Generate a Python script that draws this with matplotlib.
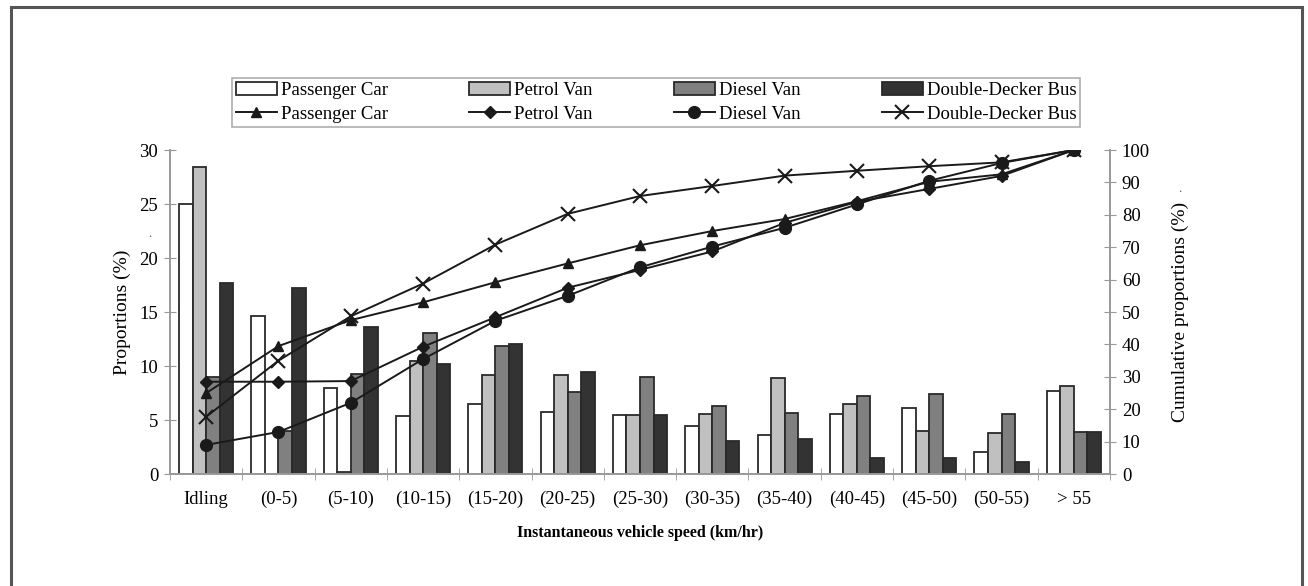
import matplotlib.pyplot as plt
import matplotlib.patches as mpatches
import numpy as np

plt.rcParams["font.family"] = ["Liberation Serif", "DejaVu Serif"]

speed_bins = ["Idling", "(0-5)", "(5-10)", "(10-15)", "(15-20)", "(20-25)", "(25-30)",
              "(30-35)", "(35-40)", "(40-45)", "(45-50)", "(50-55)", "> 55"]
vehicles = ["Passenger Car", "Petrol Van", "Diesel Van", "Double-Decker Bus"]

# proportions (%) per speed bin
passenger_car = [25.0, 14.6, 8.0, 5.4, 6.45, 5.77, 5.5, 4.44, 3.6, 5.53, 6.08, 2.07, 7.7]
petrol_van = [28.4, 0.0, 0.2, 10.5, 9.17, 9.17, 5.5, 5.55, 8.86, 6.45, 3.98, 3.83, 8.18]
diesel_van = [9.0, 4.0, 9.3, 13.1, 11.9, 7.6, 9.0, 6.3, 5.7, 7.22, 7.38, 5.53, 3.92]
dd_bus = [17.7, 17.2, 13.6, 10.2, 12.0, 9.47, 5.5, 3.1, 3.24, 1.45, 1.45, 1.14, 3.92]

# cumulative proportions (%)
cum_passenger_car = [25.0, 39.5, 47.5, 53.0, 59.2, 65.0, 70.6, 75.0, 78.7, 84.2, 90.2, 92.5, 100.0]
cum_petrol_van = [28.5, 28.5, 28.7, 39.3, 48.4, 57.5, 63.0, 68.7, 77.5, 84.0, 88.0, 92.0, 100.0]
cum_diesel_van = [9.0, 13.0, 22.0, 35.5, 47.3, 55.0, 63.8, 70.2, 76.0, 83.2, 90.5, 96.0, 100.0]
cum_dd_bus = [17.7, 35.0, 48.7, 58.8, 70.8, 80.3, 85.8, 88.9, 92.1, 93.6, 95.0, 96.2, 100.0]

bar_data = [passenger_car, petrol_van, diesel_van, dd_bus]
cum_data = [cum_passenger_car, cum_petrol_van, cum_diesel_van, cum_dd_bus]
bar_colors = ["#ffffff", "#c0c0c0", "#808080", "#333333"]
markers = ["^", "D", "o", "x"]
marker_sizes = [6.5, 6.5, 8.5, 10]

fig = plt.figure(figsize=(13.08, 5.86), dpi=100)
ax = fig.add_axes([0.130, 0.191, 0.7186, 0.553])
ax2 = ax.twinx()

x = np.arange(len(speed_bins))
w = 0.187
bar_handles = []
for i, vals in enumerate(bar_data):
    b = ax.bar(x + (i - 1.5) * w, vals, w, color=bar_colors[i], edgecolor="#2a2a2a",
               linewidth=1.3, label=vehicles[i], zorder=2)
    bar_handles.append(b)

line_handles = []
for i, vals in enumerate(cum_data):
    ln, = ax2.plot(x, vals, color="#1a1a1a", lw=1.4, marker=markers[i],
                   markersize=marker_sizes[i], markeredgewidth=1.5 if markers[i] == "x" else 1,
                   label=vehicles[i])
    line_handles.append(ln)

ax.set_xlim(-0.5, len(speed_bins) - 0.5)
ax.set_ylim(0, 30)
ax2.set_ylim(0, 100)
ax.set_yticks(range(0, 31, 5))
ax2.set_yticks(range(0, 101, 10))

ax.set_xticks(x)
ax.set_xticklabels(speed_bins, fontsize=13.5)
ax.set_xticks(np.arange(-0.5, len(speed_bins), 1), minor=True)
ax.tick_params(axis="x", which="major", length=0, pad=12)
ax.tick_params(axis="x", which="minor", direction="inout", length=9, color="#999999")
ax.tick_params(axis="y", direction="inout", length=9, color="#999999", labelsize=13.5, pad=4)
ax2.tick_params(axis="y", direction="inout", length=9, color="#999999", labelsize=13.5, pad=4)

for a in (ax, ax2):
    a.spines["top"].set_visible(False)
    for s in ("left", "right", "bottom"):
        a.spines[s].set_color("#999999")
        a.spines[s].set_linewidth(1.2)

ax.set_ylabel("Proportions (%)", fontsize=14, labelpad=6)
ax2.set_ylabel("Cumulative proportions (%)", fontsize=14, labelpad=16)
ax.set_xlabel("Instantaneous vehicle speed (km/hr)", fontsize=11.5, fontweight="bold", labelpad=12)

# legend: top row bars, bottom row lines
handles = []
labels = []
for i in range(4):
    handles += [bar_handles[i], line_handles[i]]
    labels += [vehicles[i], vehicles[i]]
leg = fig.legend(handles, labels, ncol=4, loc="lower left", mode="expand",
                 bbox_to_anchor=(0.177, 0.783, 0.649, 0.086), fontsize=13.5,
                 frameon=True, fancybox=False, edgecolor="#999999", borderpad=0.22,
                 handlelength=2.2, handletextpad=0.2, labelspacing=0.35,
                 borderaxespad=0)
leg.get_frame().set_linewidth(1.2)

# stray dots from the source scan
fig.text(0.113, 0.595, ".", fontsize=9, color="#555555")
fig.text(0.901, 0.672, ".", fontsize=9, color="#555555")

# outer frame
frame = mpatches.Rectangle((0.0085, -0.02), 0.987, 1.008, transform=fig.transFigure,
                           fill=False, edgecolor="#555555", linewidth=2.2)
fig.patches.append(frame)

fig.savefig("out.png", dpi=100)
